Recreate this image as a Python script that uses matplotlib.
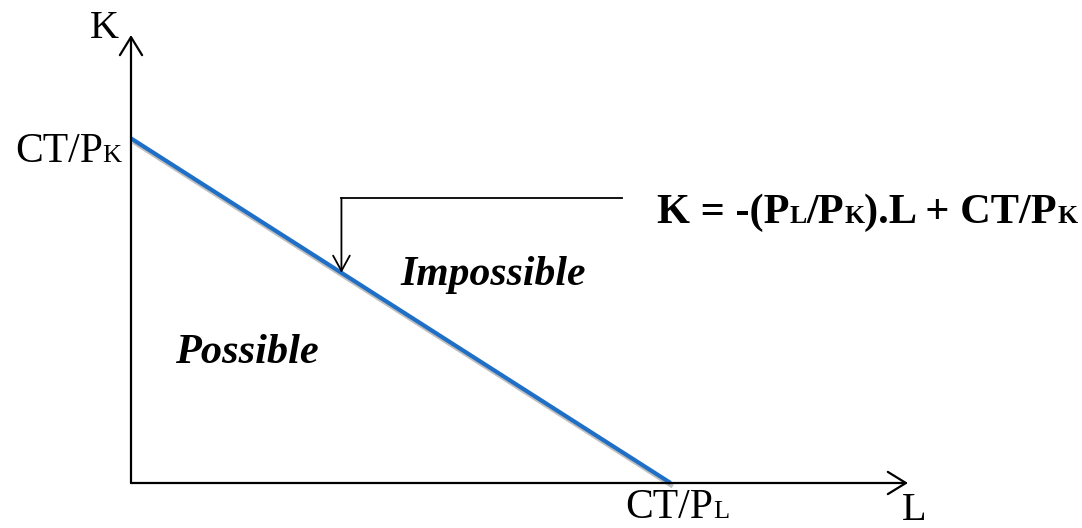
import matplotlib
matplotlib.use("Agg")
import matplotlib.pyplot as plt
import matplotlib.patheffects as pe
from matplotlib.transforms import offset_copy

# budget line K = -(PL/PK).L + CT/PK
CT = 100.0
PK = 10.0
PL = 10.0
K_int = CT / PK            # CT/PK
L_int = CT / PL            # CT/PL
L_max, K_max = 14.4, 13.0  # axis arrow ends

line_L = [0.0, L_int]
line_K = [K_int, 0.0]
ann_L = 3.9                # where the equation arrow hits the line
ann_K_top = 8.27
ann_L_end = 9.1

W, H = 1082, 528
fig = plt.figure(figsize=(W / 100, H / 100), dpi=100)
fig.patch.set_facecolor("white")
ox, oy = 131, 483
ax = fig.add_axes([ox / W, (H - oy) / H, (908 - ox) / W, (oy - 35) / H])
ax.set_xlim(0, L_max); ax.set_ylim(0, K_max)
ax.axis("off")

SERIF = "Liberation Serif"
arrow = dict(arrowstyle="->,head_length=0.65,head_width=0.4", lw=1.6, color="black",
             shrinkA=0, shrinkB=0, mutation_scale=20)
ax.annotate("", xy=(0, K_max), xytext=(0, 0), arrowprops=arrow, annotation_clip=False)
ax.annotate("", xy=(L_max, 0), xytext=(0, 0), arrowprops=arrow, annotation_clip=False)

ax.plot(line_L, line_K, color="#1f6fc6", lw=3.0, solid_capstyle="butt", clip_on=False,
        path_effects=[pe.SimpleLineShadow(offset=(1.5, -2.5), shadow_color="gray", alpha=0.5),
                      pe.Normal()])

# bent pointer from the equation to the line
ax.plot([ann_L_end, ann_L], [ann_K_top, ann_K_top], color="black", lw=1.3, clip_on=False)
ax.annotate("", xy=(ann_L, K_int - ann_L * PL / PK), xytext=(ann_L, ann_K_top),
            arrowprops=dict(arrowstyle="->,head_length=0.55,head_width=0.3", lw=1.3,
                            color="black", shrinkA=0, shrinkB=0, mutation_scale=20))

renderer = fig.canvas.get_renderer()


def rich(x, y, parts, ha="left", weight="normal"):
    # draw text pieces of different sizes on one baseline
    arts = []
    for s, size in parts:
        t = ax.text(x, y, s, fontsize=size, family=SERIF, weight=weight,
                    ha="left", va="baseline", clip_on=False)
        arts.append(t)
    widths = [t.get_window_extent(renderer).width for t in arts]
    total = sum(widths)
    start = {"left": 0, "center": -total / 2, "right": -total}[ha]
    dx = start
    for t, w in zip(arts, widths):
        t.set_transform(offset_copy(ax.transData, fig=fig, x=dx, y=0, units="dots"))
        dx += w


big, small = 30, 19
ax.text(-0.5, 12.91, "K", fontsize=29, family=SERIF, ha="center", va="baseline", clip_on=False)
ax.text(14.51, -1.07, "L", fontsize=29, family=SERIF, ha="center", va="baseline", clip_on=False)
rich(-0.17, 9.31, [("CT/P", big), ("K", small)], ha="right")
rich(10.12, -1.02, [("CT/P", big), ("L", small)], ha="center")

eq_big, eq_small = 30.5, 18.5
rich(9.75, 7.54, [("K = -(P", eq_big), ("L", eq_small), ("/P", eq_big), ("K", eq_small),
                  (").L + CT/P", eq_big), ("K", eq_small)], weight="bold")

ax.text(0.82, 3.48, "Possible", fontsize=30.5, family=SERIF, weight="bold", style="italic",
        va="baseline")
ax.text(5.0, 5.75, "Impossible", fontsize=30, family=SERIF, weight="bold", style="italic",
        va="baseline")

fig.savefig("out.png", dpi=100, facecolor="white")
